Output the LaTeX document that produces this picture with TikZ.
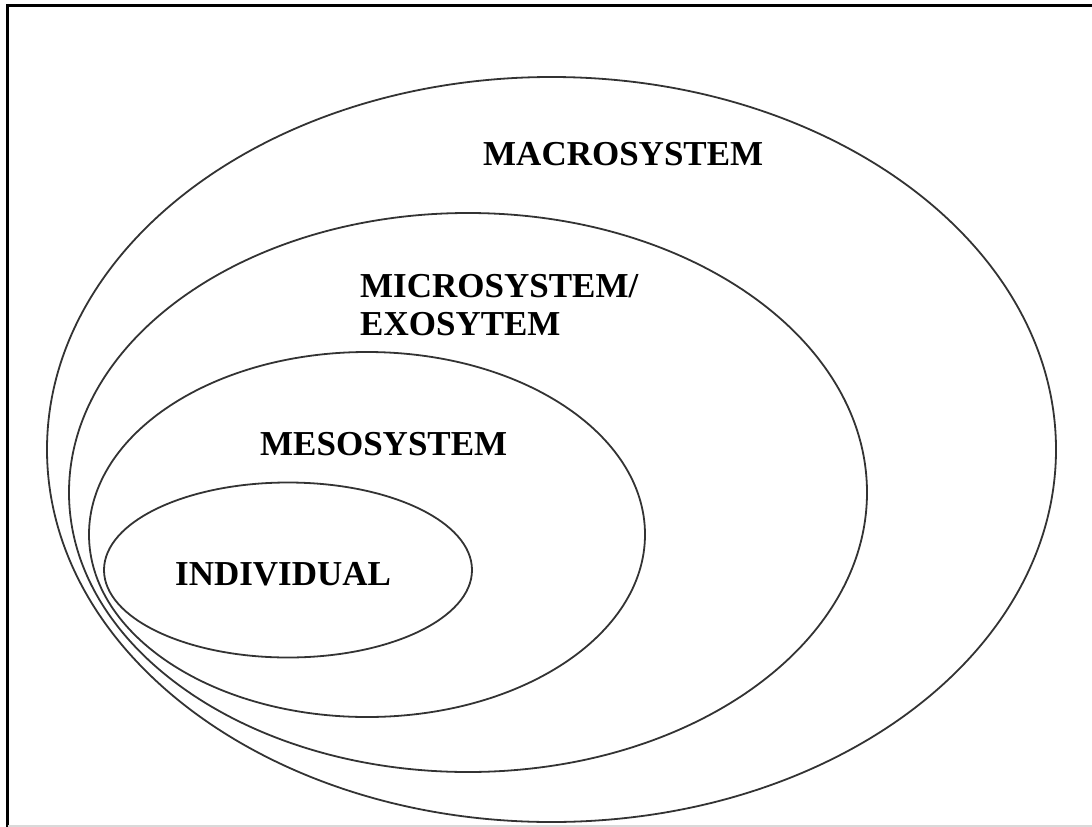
\documentclass[tikz,border=0pt]{standalone}
\usepackage{fontspec}
\setmainfont{Liberation Serif}
\begin{document}
\begin{tikzpicture}[x=1pt, y=-1pt]
    \useasboundingbox (0,0) rectangle (1092,827);

    % Draw frame
    \draw[line width=2.5pt] (1092,5.5) -- (7.5,5.5) -- (7.5,827);
    \draw[line width=1.5pt, black!15] (7.5,826) -- (1092,826);

    % Draw nested ellipses
    \draw[line width=1.8pt, black!80] (551.5,449.5) ellipse (504.5 and 372.5);
    \draw[line width=1.8pt, black!80] (468,492.5) ellipse (399 and 279.5);
    \draw[line width=1.8pt, black!80] (367,534.5) ellipse (278 and 182.5);
    \draw[line width=1.8pt, black!80] (288,570) ellipse (184 and 87.5);

    % Draw labels
    \node[anchor=base west, inner sep=0pt, font=\fontsize{35}{38}\selectfont\bfseries] (macro) at (483,165) {MACROSYSTEM};
    \node[anchor=base west, inner sep=0pt, font=\fontsize{35}{38}\selectfont\bfseries] (micro) at (360,297) {MICROSYSTEM/};
    \node[anchor=base west, inner sep=0pt, font=\fontsize{35}{38}\selectfont\bfseries] (exo) at (360,335) {EXOSYTEM};
    \node[anchor=base west, inner sep=0pt, font=\fontsize{35}{38}\selectfont\bfseries] (meso) at (260,455) {MESOSYSTEM};
    \node[anchor=base west, inner sep=0pt, font=\fontsize{35}{38}\selectfont\bfseries] (indiv) at (175,585) {INDIVIDUAL};
\end{tikzpicture}
\end{document}
